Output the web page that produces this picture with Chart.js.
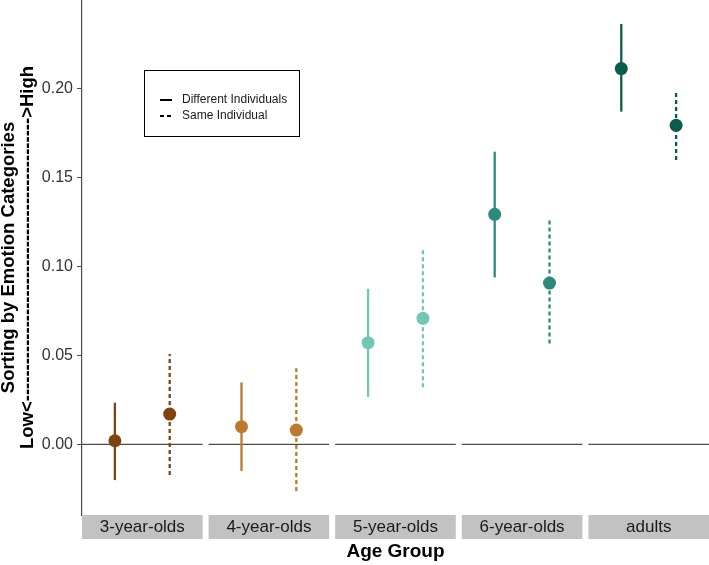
<!DOCTYPE html>
<html>
<head>
<meta charset="utf-8">
<script src="https://cdn.jsdelivr.net/npm/chart.js@4.4.1/dist/chart.umd.min.js"></script>
<style>
  html, body { margin: 0; padding: 0; background: #ffffff; }
  #wrap { width: 709px; height: 565px; }
</style>
</head>
<body>
<div id="wrap"><canvas id="c" width="709" height="565"></canvas></div>
<script>
// ---- data ----
const ageGroups = ['3-year-olds', '4-year-olds', '5-year-olds', '6-year-olds', 'adults'];
const seriesNames = ['Different Individuals', 'Same Individual'];
const diffMean  = [0.0020, 0.0099, 0.0571, 0.1292, 0.2111];
const diffLower = [-0.0201, -0.0150, 0.0267, 0.0938, 0.1869];
const diffUpper = [0.0234, 0.0348, 0.0874, 0.1644, 0.2361];
const sameMean  = [0.0170, 0.0080, 0.0708, 0.0906, 0.1792];
const sameLower = [-0.0173, -0.0262, 0.0320, 0.0567, 0.1597];
const sameUpper = [0.0507, 0.0427, 0.1101, 0.1264, 0.1990];
const yTicks = [0, 0.05, 0.10, 0.15, 0.20];
const referenceValue = 0;
const groupColors = ['#7f4310', '#bd7a2c', '#70c8b4', '#2c8a7c', '#0b5c4e'];
const yTitleLine1 = 'Sorting by Emotion Categories';
const yTitleLine2 = 'Low<' + '-'.repeat(46) + '>High';

// ---- facet geometry (in x-scale units) ----
const FACET_W = 2.2;      // discrete range 1..2 expanded by 0.6 each side
const GAP = 0.1095;       // panel spacing
const facetStart = i => i * (FACET_W + GAP);
const posDiff = i => facetStart(i) + 0.6;
const posSame = i => facetStart(i) + 1.6;
const X_MAX = ageGroups.length * FACET_W + (ageGroups.length - 1) * GAP;

const FONT = "'Liberation Sans', Arial, sans-serif";
const datasets = [];

// points (drawn on top)
datasets.push({
  label: seriesNames[0],
  data: ageGroups.map((g, i) => ({ x: posDiff(i), y: diffMean[i] })),
  pointRadius: 6.5, pointHoverRadius: 6.5, pointBorderWidth: 0,
  pointBackgroundColor: groupColors, showLine: false, order: 0
});
datasets.push({
  label: seriesNames[1],
  data: ageGroups.map((g, i) => ({ x: posSame(i), y: sameMean[i] })),
  pointRadius: 6.5, pointHoverRadius: 6.5, pointBorderWidth: 0,
  pointBackgroundColor: groupColors, showLine: false, order: 0
});
// error bars
ageGroups.forEach((g, i) => {
  datasets.push({
    label: 'ci-diff-' + g,
    data: [{ x: posDiff(i), y: diffLower[i] }, { x: posDiff(i), y: diffUpper[i] }],
    showLine: true, pointRadius: 0, borderColor: groupColors[i], borderWidth: 2.3,
    borderCapStyle: 'butt', order: 1
  });
  datasets.push({
    label: 'ci-same-' + g,
    data: [{ x: posSame(i), y: sameLower[i] }, { x: posSame(i), y: sameUpper[i] }],
    showLine: true, pointRadius: 0, borderColor: groupColors[i], borderWidth: 2.3,
    borderDash: [4, 3], borderCapStyle: 'butt', order: 1
  });
  // reference line in each facet
  datasets.push({
    label: 'ref-' + g,
    data: [{ x: facetStart(i), y: referenceValue }, { x: facetStart(i) + FACET_W, y: referenceValue }],
    showLine: true, pointRadius: 0, borderColor: '#4d4d4d', borderWidth: 1.2, order: 2
  });
});

const facetPlugin = {
  id: 'facets',
  afterDraw(chart) {
    const ctx = chart.ctx, xs = chart.scales.x, area = chart.chartArea;
    ctx.save();
    // strips
    ageGroups.forEach((g, i) => {
      const x0 = xs.getPixelForValue(facetStart(i));
      const x1 = xs.getPixelForValue(facetStart(i) + FACET_W);
      ctx.fillStyle = '#c2c2c2';
      ctx.fillRect(x0, area.bottom, x1 - x0, 24);
      ctx.fillStyle = '#1a1a1a';
      ctx.font = '17px ' + FONT;
      ctx.textAlign = 'center';
      ctx.textBaseline = 'middle';
      ctx.fillText(g, (x0 + x1) / 2, area.bottom + 12.5);
    });
    // legend box
    const bx = 144.5, by = 70.5, bw = 155, bh = 66;
    ctx.strokeStyle = '#000';
    ctx.lineWidth = 1;
    ctx.strokeRect(bx, by, bw, bh);
    const rows = [100, 116];
    seriesNames.forEach((name, k) => {
      ctx.beginPath();
      ctx.strokeStyle = '#000';
      ctx.lineWidth = 2;
      ctx.setLineDash(k === 0 ? [] : [4, 3]);
      ctx.moveTo(160, rows[k]);
      ctx.lineTo(172, rows[k]);
      ctx.stroke();
      ctx.setLineDash([]);
      ctx.fillStyle = '#1a1a1a';
      ctx.font = '12px ' + FONT;
      ctx.textAlign = 'left';
      ctx.textBaseline = 'middle';
      ctx.fillText(name, 182, rows[k]);
    });
    ctx.restore();
  }
};

function noPad(scale) {
  scale.paddingTop = 0; scale.paddingBottom = 0;
  scale.paddingLeft = 0; scale.paddingRight = 0;
}

new Chart(document.getElementById('c'), {
  type: 'scatter',
  data: { datasets },
  options: {
    responsive: false,
    animation: false,
    layout: { padding: 0, autoPadding: false },
    plugins: { legend: { display: false }, tooltip: { enabled: false } },
    scales: {
      x: {
        type: 'linear', min: 0, max: X_MAX,
        grid: { display: false },
        border: { display: false },
        ticks: { display: false },
        title: {
          display: true, text: 'Age Group', color: '#000',
          font: { family: FONT, size: 19, weight: 'bold', lineHeight: 1.2 },
          padding: { top: 0, bottom: 1.5 }
        },
        afterFit(scale) { scale.height = 50; noPad(scale); }
      },
      y: {
        type: 'linear', min: -0.0397, max: 0.2496,
        grid: { drawOnChartArea: false, drawTicks: true, tickLength: 5, color: '#4d4d4d', lineWidth: 1 },
        border: { display: true, color: '#4d4d4d', width: 1.2 },
        ticks: {
          color: '#333', padding: 4,
          font: { family: FONT, size: 16 },
          callback: v => Number(v).toFixed(2)
        },
        afterBuildTicks(scale) { scale.ticks = yTicks.map(v => ({ value: v })); },
        title: {
          display: true, color: '#000',
          text: [yTitleLine1, yTitleLine2],
          font: { family: FONT, size: 18.5, weight: 'bold', lineHeight: 1.03 },
          padding: { top: -1, bottom: 0 }
        },
        afterFit(scale) { scale.width = 82; noPad(scale); }
      }
    }
  },
  plugins: [facetPlugin]
});
</script>
</body>
</html>
